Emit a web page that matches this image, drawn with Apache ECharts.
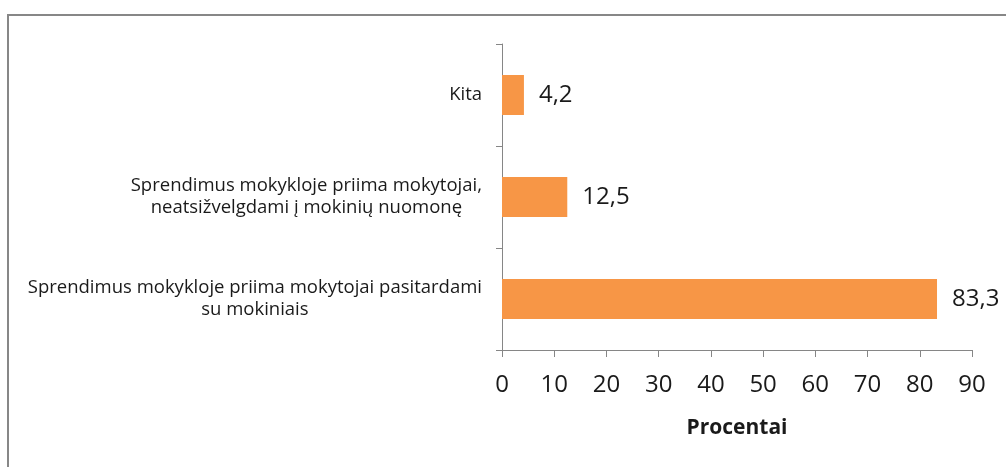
<!DOCTYPE html>
<html>
<head>
<meta charset="utf-8">
<script src="https://cdn.jsdelivr.net/npm/echarts@6/dist/echarts.min.js"></script>
<style>
  html, body { margin: 0; padding: 0; background: #fff; }
  #chart { width: 1006px; height: 467px; }
</style>
</head>
<body>
<div id="chart"></div>
<script>
// categories listed bottom to top
const categories = [
  'Sprendimus mokykloje priima mokytojai pasitardami\nsu mokiniais',
  'Sprendimus mokykloje priima mokytojai,\nneatsižvelgdami į mokinių nuomonę',
  'Kita'
]
const values = [83.3, 12.5, 4.2]
const xTicks = [0, 10, 20, 30, 40, 50, 60, 70, 80, 90]
const axisName = 'Procentai'

const font = '"Open Sans", sans-serif'
const textColor = '#1a1a1a'
const axisColor = '#868686'

let chart = echarts.init(document.getElementById('chart'), null, {renderer: 'canvas'})

chart.setOption({
  animation: false,
  graphic: [{
    type: 'rect',
    shape: {x: 8, y: 15, width: 1200, height: 600},
    style: {fill: 'none', stroke: '#878787', lineWidth: 2}
  }],
  grid: {left: 502, right: 34, top: 44, bottom: 117},
  xAxis: {
    type: 'value',
    min: xTicks[0],
    max: xTicks[xTicks.length - 1],
    interval: 10,
    name: axisName,
    nameLocation: 'middle',
    nameGap: 68,
    nameTextStyle: {fontFamily: font, fontSize: 21, fontWeight: 'bold', color: textColor},
    axisLine: {show: true, lineStyle: {color: axisColor, width: 1}},
    axisTick: {show: true, length: 7, lineStyle: {color: axisColor}},
    axisLabel: {fontFamily: font, fontSize: 24, color: textColor, margin: 23},
    splitLine: {show: false}
  },
  yAxis: {
    type: 'category',
    data: categories,
    axisLine: {show: true, lineStyle: {color: axisColor, width: 1}},
    axisTick: {show: true, length: 6, lineStyle: {color: axisColor}},
    axisLabel: {
      fontFamily: font, fontSize: 18.5, color: textColor, margin: 20, lineHeight: 22,
      formatter: v => v.split('\n').map(s => '{c|' + s + '}').join('\n'),
      rich: {c: {align: 'center', fontFamily: font, fontSize: 18.5, color: textColor, lineHeight: 22}}
    }
  },
  series: [{
    type: 'bar',
    data: values,
    barWidth: 40,
    itemStyle: {color: '#F79646'},
    label: {
      show: true,
      position: 'right',
      distance: 15,
      fontFamily: font,
      fontSize: 24,
      color: textColor,
      formatter: p => p.value.toFixed(1).replace('.', ',')
    }
  }]
})
</script>
</body>
</html>
